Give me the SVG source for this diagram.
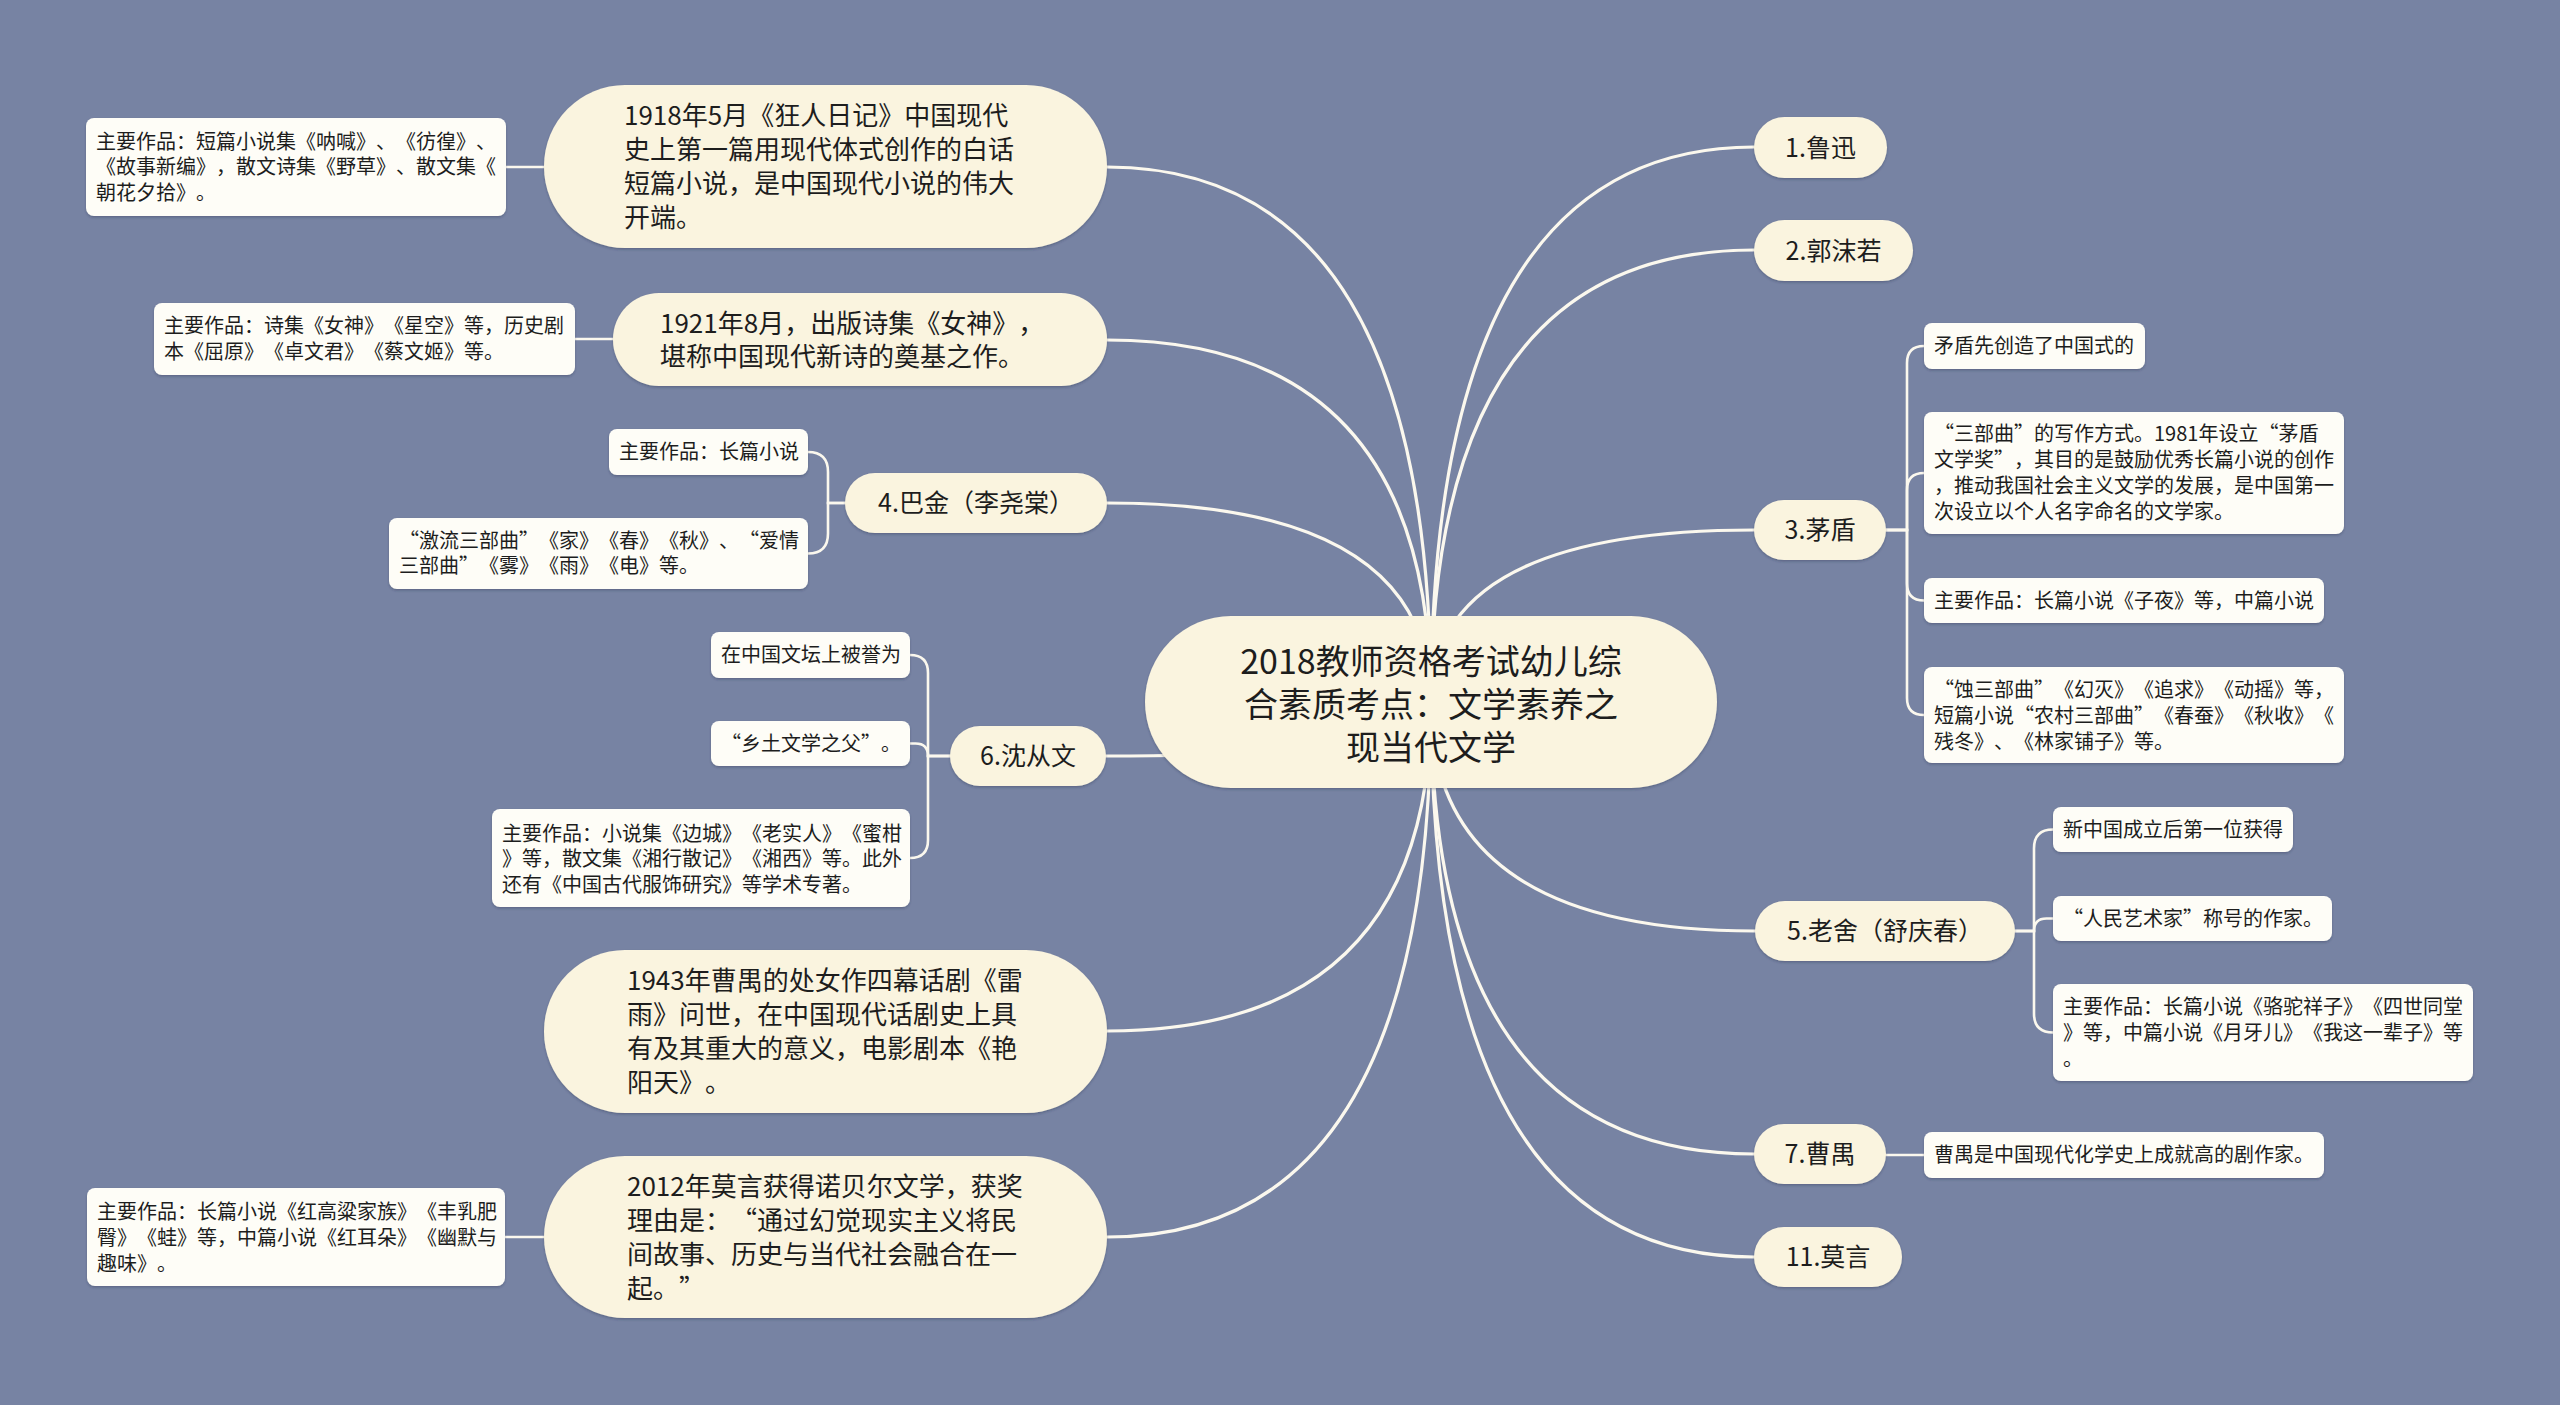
<svg xmlns="http://www.w3.org/2000/svg" width="2560" height="1405" viewBox="0 0 2560 1405" lang="zh-CN">
<defs>
<filter id="sh" x="-5%" y="-10%" width="110%" height="125%">
<feDropShadow dx="0" dy="1.5" stdDeviation="1.2" flood-color="#2a3350" flood-opacity="0.35"/>
</filter>
</defs>
<style>
.bg{fill:#7783a3}
.pill{fill:#faf4df;filter:url(#sh)}
.leaf{fill:#fefdf7;filter:url(#sh)}
.ln{fill:none;stroke:#fbf8ee;stroke-width:3.2;stroke-linecap:round}
.sl{fill:none;stroke:#fbf8ee;stroke-width:2.6;stroke-linecap:round}
text{font-family:"Noto Sans CJK SC","Noto Sans",sans-serif;fill:#1d1d1d;text-spacing-trim:space-all;font-kerning:none}
.t34{font-size:34px;text-anchor:middle}
.t26{font-size:26px}
.t25{font-size:25px;text-anchor:middle}
.t20{font-size:20px}
</style>
<rect class="bg" x="0" y="0" width="2560" height="1405"/>

<g id="connectors">
<path class="ln" d="M1431 703 Q1431 167 1107 167"/>
<path class="ln" d="M1431 703 Q1431 340 1107 340"/>
<path class="ln" d="M1431 703 Q1431 503 1107 503"/>
<path class="ln" d="M1431 703 Q1431 756 1106 756"/>
<path class="ln" d="M1431 703 Q1431 1031 1107 1031"/>
<path class="ln" d="M1431 703 Q1431 1237 1107 1237"/>
<path class="ln" d="M1431 703 Q1431 147 1754 147"/>
<path class="ln" d="M1431 703 Q1431 250 1754 250"/>
<path class="ln" d="M1431 703 Q1431 530 1754 530"/>
<path class="ln" d="M1431 703 Q1431 931 1755 931"/>
<path class="ln" d="M1431 703 Q1431 1154 1754 1154"/>
<path class="ln" d="M1431 703 Q1431 1257 1754 1257"/>

<path class="sl" d="M544 167 H506"/>
<path class="sl" d="M613 339 H575"/>
<path class="sl" d="M544 1237 H505"/>
<path class="sl" d="M1886 1155 H1924"/>

<path class="sl" d="M1886 530 H1907 V363 Q1907 346 1924 346"/>
<path class="sl" d="M1886 530 H1907 V490 Q1907 473 1924 473"/>
<path class="sl" d="M1886 530 H1907 V583.5 Q1907 600.5 1924 600.5"/>
<path class="sl" d="M1886 530 H1907 V698 Q1907 715 1924 715"/>

<path class="sl" d="M2015 931 H2034 V848.5 Q2034 829.5 2053 829.5"/>
<path class="sl" d="M2015 931 H2034 Q2034 918.5 2046.5 918.5 H2053"/>
<path class="sl" d="M2015 931 H2034 V1013.5 Q2034 1032.5 2053 1032.5"/>

<path class="sl" d="M845 503 H828 V472 Q828 452 808 452"/>
<path class="sl" d="M845 503 H828 V533.5 Q828 553.5 808 553.5"/>

<path class="sl" d="M950 756 H928 V673 Q928 655 910 655"/>
<path class="sl" d="M950 756 H928 Q928 743.5 915.5 743.5 H910"/>
<path class="sl" d="M950 756 H928 V840 Q928 858 910 858"/>
</g>

<g id="center">
<rect class="pill" x="1145" y="616" width="572" height="172" rx="86"/>
<text class="t34" x="1431" y="674">2018教师资格考试幼儿综</text>
<text class="t34" x="1431" y="717">合素质考点：文学素养之</text>
<text class="t34" x="1431" y="760">现当代文学</text>
</g>

<g id="n1918">
<rect class="pill" x="544" y="85" width="563" height="163" rx="81"/>
<text class="t26" x="624" y="125">1918年5月《狂人日记》中国现代</text>
<text class="t26" x="624" y="159">史上第一篇用现代体式创作的白话</text>
<text class="t26" x="624" y="193">短篇小说，是中国现代小说的伟大</text>
<text class="t26" x="624" y="227">开端。</text>
</g>
<g id="l1918">
<rect class="leaf" x="86" y="118" width="420" height="98" rx="8"/>
<text class="t20" x="96" y="148.5">主要作品：短篇小说集《呐喊》、《彷徨》、</text>
<text class="t20" x="96" y="174">《故事新编》，散文诗集《野草》、散文集《</text>
<text class="t20" x="96" y="199.5">朝花夕拾》。</text>
</g>

<g id="n1921">
<rect class="pill" x="613" y="293" width="494" height="93" rx="46"/>
<text class="t26" x="660" y="332.5">1921年8月，出版诗集《女神》，</text>
<text class="t26" x="660" y="365.5">堪称中国现代新诗的奠基之作。</text>
</g>
<g id="l1921">
<rect class="leaf" x="154" y="303" width="421" height="72" rx="8"/>
<text class="t20" x="164" y="333">主要作品：诗集《女神》《星空》等，历史剧</text>
<text class="t20" x="164" y="359">本《屈原》《卓文君》《蔡文姬》等。</text>
</g>

<g id="n4">
<rect class="pill" x="845" y="473" width="262" height="60" rx="30"/>
<text class="t25" x="976" y="512">4.巴金（李尧棠）</text>
</g>
<g id="l4a">
<rect class="leaf" x="609" y="429" width="199" height="46" rx="8"/>
<text class="t20" x="619" y="459">主要作品：长篇小说</text>
</g>
<g id="l4b">
<rect class="leaf" x="389" y="518" width="419" height="71" rx="8"/>
<text class="t20" x="399" y="548">“激流三部曲”《家》《春》《秋》、“爱情</text>
<text class="t20" x="399" y="573">三部曲”《雾》《雨》《电》等。</text>
</g>

<g id="n6">
<rect class="pill" x="950" y="726" width="156" height="60" rx="30"/>
<text class="t25" x="1028" y="765">6.沈从文</text>
</g>
<g id="l6a">
<rect class="leaf" x="711" y="632" width="199" height="46" rx="8"/>
<text class="t20" x="721" y="662">在中国文坛上被誉为</text>
</g>
<g id="l6b">
<rect class="leaf" x="711" y="721" width="199" height="45" rx="8"/>
<text class="t20" x="721" y="750.5">“乡土文学之父”。</text>
</g>
<g id="l6c">
<rect class="leaf" x="492" y="809" width="418" height="98" rx="8"/>
<text class="t20" x="502" y="840.5">主要作品：小说集《边城》《老实人》《蜜柑</text>
<text class="t20" x="502" y="866">》等，散文集《湘行散记》《湘西》等。此外</text>
<text class="t20" x="502" y="891.5">还有《中国古代服饰研究》等学术专著。</text>
</g>

<g id="n1943">
<rect class="pill" x="544" y="950" width="563" height="163" rx="81"/>
<text class="t26" x="627" y="990">1943年曹禺的处女作四幕话剧《雷</text>
<text class="t26" x="627" y="1024">雨》问世，在中国现代话剧史上具</text>
<text class="t26" x="627" y="1058">有及其重大的意义，电影剧本《艳</text>
<text class="t26" x="627" y="1092">阳天》。</text>
</g>

<g id="n2012">
<rect class="pill" x="544" y="1156" width="563" height="162" rx="81"/>
<text class="t26" x="627" y="1195.5">2012年莫言获得诺贝尔文学，获奖</text>
<text class="t26" x="627" y="1229.5">理由是：“通过幻觉现实主义将民</text>
<text class="t26" x="627" y="1263.5">间故事、历史与当代社会融合在一</text>
<text class="t26" x="627" y="1297.5">起。”</text>
</g>
<g id="l2012">
<rect class="leaf" x="87" y="1188" width="418" height="98" rx="8"/>
<text class="t20" x="97" y="1219">主要作品：长篇小说《红高粱家族》《丰乳肥</text>
<text class="t20" x="97" y="1245">臀》《蛙》等，中篇小说《红耳朵》《幽默与</text>
<text class="t20" x="97" y="1271">趣味》。</text>
</g>

<g id="n1">
<rect class="pill" x="1754" y="117" width="133" height="61" rx="30.5"/>
<text class="t25" x="1820.5" y="156.5">1.鲁迅</text>
</g>
<g id="n2">
<rect class="pill" x="1754" y="220" width="159" height="61" rx="30.5"/>
<text class="t25" x="1833.5" y="259.5">2.郭沫若</text>
</g>

<g id="n3">
<rect class="pill" x="1754" y="500" width="132" height="60" rx="30"/>
<text class="t25" x="1820" y="539">3.茅盾</text>
</g>
<g id="l3a">
<rect class="leaf" x="1924" y="323" width="221" height="46" rx="8"/>
<text class="t20" x="1934" y="353">矛盾先创造了中国式的</text>
</g>
<g id="l3b">
<rect class="leaf" x="1924" y="412" width="420" height="122" rx="8"/>
<text class="t20" x="1934" y="441">“三部曲”的写作方式。1981年设立“茅盾</text>
<text class="t20" x="1934" y="467">文学奖”，其目的是鼓励优秀长篇小说的创作</text>
<text class="t20" x="1934" y="493">，推动我国社会主义文学的发展，是中国第一</text>
<text class="t20" x="1934" y="519">次设立以个人名字命名的文学家。</text>
</g>
<g id="l3c">
<rect class="leaf" x="1924" y="578" width="400" height="45" rx="8"/>
<text class="t20" x="1934" y="607.5">主要作品：长篇小说《子夜》等，中篇小说</text>
</g>
<g id="l3d">
<rect class="leaf" x="1924" y="667" width="420" height="96" rx="8"/>
<text class="t20" x="1934" y="696.5">“蚀三部曲”《幻灭》《追求》《动摇》等，</text>
<text class="t20" x="1934" y="722.5">短篇小说“农村三部曲”《春蚕》《秋收》《</text>
<text class="t20" x="1934" y="748.5">残冬》、《林家铺子》等。</text>
</g>

<g id="n5">
<rect class="pill" x="1755" y="901" width="260" height="60" rx="30"/>
<text class="t25" x="1885" y="940">5.老舍（舒庆春）</text>
</g>
<g id="l5a">
<rect class="leaf" x="2053" y="807" width="240" height="45" rx="8"/>
<text class="t20" x="2063" y="836.5">新中国成立后第一位获得</text>
</g>
<g id="l5b">
<rect class="leaf" x="2053" y="896" width="279" height="45" rx="8"/>
<text class="t20" x="2063" y="925.5">“人民艺术家”称号的作家。</text>
</g>
<g id="l5c">
<rect class="leaf" x="2053" y="984" width="420" height="97" rx="8"/>
<text class="t20" x="2063" y="1014">主要作品：长篇小说《骆驼祥子》《四世同堂</text>
<text class="t20" x="2063" y="1040">》等，中篇小说《月牙儿》《我这一辈子》等</text>
<text class="t20" x="2063" y="1066">。</text>
</g>

<g id="n7">
<rect class="pill" x="1754" y="1124" width="132" height="60" rx="30"/>
<text class="t25" x="1820" y="1163">7.曹禺</text>
</g>
<g id="l7">
<rect class="leaf" x="1924" y="1132" width="400" height="46" rx="8"/>
<text class="t20" x="1934" y="1162">曹禺是中国现代化学史上成就高的剧作家。</text>
</g>

<g id="n11">
<rect class="pill" x="1754" y="1227" width="148" height="60" rx="30"/>
<text class="t25" x="1828" y="1266">11.莫言</text>
</g>
</svg>
